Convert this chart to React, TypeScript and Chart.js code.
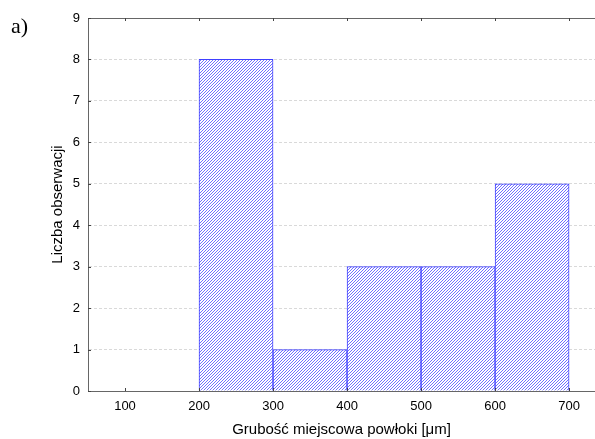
import React, { useEffect, useRef } from "react";
import { Chart, registerables } from "chart.js";

Chart.register(...registerables);

// Histogram bins (centres, µm) and counts
const binCentres = [250, 350, 450, 550, 650];
const counts = [8, 1, 3, 3, 5];
const xTicks = [100, 200, 300, 400, 500, 600, 700];
const yTicks = [0, 1, 2, 3, 4, 5, 6, 7, 8, 9];

const X_MIN = 50;
const X_MAX = 735;
const Y_MIN = 0;
const Y_MAX = 9;

const AXIS_COLOR = "#666666";
const FONT = "'Liberation Sans', Arial, sans-serif";

function makePattern(): CanvasPattern | string {
  const c = document.createElement("canvas");
  c.width = 3;
  c.height = 3;
  const g = c.getContext("2d");
  if (!g) return "#8888ff";
  g.fillStyle = "#ffffff";
  g.fillRect(0, 0, 3, 3);
  g.fillStyle = "#7070ff";
  g.fillRect(2, 0, 1, 1);
  g.fillRect(1, 1, 1, 1);
  g.fillRect(0, 2, 1, 1);
  const p = g.createPattern(c, "repeat");
  return p || "#8888ff";
}

const framePlugin = {
  id: "frame",
  afterDraw(chart: any) {
    const { ctx, chartArea, scales } = chart;
    const { left, right, top, bottom } = chartArea;
    ctx.save();
    ctx.strokeStyle = AXIS_COLOR;
    ctx.lineWidth = 1;
    // top border
    ctx.beginPath();
    ctx.moveTo(left, Math.round(top) + 0.5);
    ctx.lineTo(right, Math.round(top) + 0.5);
    ctx.stroke();
    // inward tick marks
    ctx.strokeStyle = "#444444";
    ctx.beginPath();
    xTicks.forEach((v) => {
      const x = Math.round(scales.x.getPixelForValue(v)) + 0.5;
      ctx.moveTo(x, bottom);
      ctx.lineTo(x, bottom - 3);
      ctx.moveTo(x, top);
      ctx.lineTo(x, top + 3);
    });
    yTicks.forEach((v) => {
      const y = Math.round(scales.y.getPixelForValue(v)) + 0.5;
      ctx.moveTo(left, y);
      ctx.lineTo(left + 3, y);
    });
    ctx.stroke();
    // panel label
    ctx.fillStyle = "#000";
    ctx.font = "22px 'Liberation Serif', 'Times New Roman', serif";
    ctx.textAlign = "left";
    ctx.textBaseline = "alphabetic";
    ctx.fillText("a)", 11, 33);
    ctx.restore();
  },
};

export default function App() {
  const ref = useRef<HTMLCanvasElement | null>(null);

  useEffect(() => {
    if (!ref.current) return;
    const pattern = makePattern();
    const chart = new Chart(ref.current, {
      type: "bar",
      data: {
        datasets: [
          {
            data: binCentres.map((x, i) => ({ x, y: counts[i] })),
            backgroundColor: pattern as any,
            borderColor: "#4040ff",
            borderWidth: 1,
            barPercentage: 1,
            categoryPercentage: 1,
          },
        ],
      },
      plugins: [framePlugin],
      options: {
        animation: false,
        responsive: false,
        layout: { padding: { left: 49, top: 18, right: 0, bottom: 0 } },
        plugins: {
          legend: { display: false },
          tooltip: { enabled: false },
        },
        scales: {
          x: {
            type: "linear",
            min: X_MIN,
            max: X_MAX,
            offset: false,
            afterBuildTicks: (axis: any) => {
              axis.ticks = xTicks.map((v) => ({ value: v }));
            },
            afterFit: (axis: any) => {
              axis.height = 48;
            },
            grid: { display: false, drawTicks: false },
            border: { display: true, color: AXIS_COLOR, width: 1 },
            ticks: {
              padding: 8,
              color: "#000",
              font: { family: FONT, size: 13 },
              maxRotation: 0,
              autoSkip: false,
            },
            title: {
              display: true,
              text: "Grubość miejscowa powłoki [μm]",
              color: "#000",
              font: { family: FONT, size: 15 },
              padding: { top: 1, bottom: 0 },
            },
          },
          y: {
            type: "linear",
            min: Y_MIN,
            max: Y_MAX,
            afterBuildTicks: (axis: any) => {
              axis.ticks = yTicks.map((v) => ({ value: v }));
            },
            afterFit: (axis: any) => {
              axis.width = 39;
            },
            grid: {
              display: true,
              drawTicks: false,
              color: "#d9d9d9",
              lineWidth: 1,
            },
            border: { display: true, color: AXIS_COLOR, width: 1, dash: [3, 2] },
            ticks: {
              padding: 8,
              color: "#000",
              font: { family: FONT, size: 13 },
            },
            title: {
              display: true,
              text: "Liczba obserwacji",
              color: "#000",
              font: { family: FONT, size: 15 },
              padding: { top: 0, bottom: 0 },
            },
          },
        },
      } as any,
    });
    return () => chart.destroy();
  }, []);

  return (
    <div style={{ position: "absolute", left: 0, top: 0, width: 595, height: 439 }}>
      <canvas ref={ref} width={595} height={439} style={{ width: 595, height: 439 }} />
    </div>
  );
}
